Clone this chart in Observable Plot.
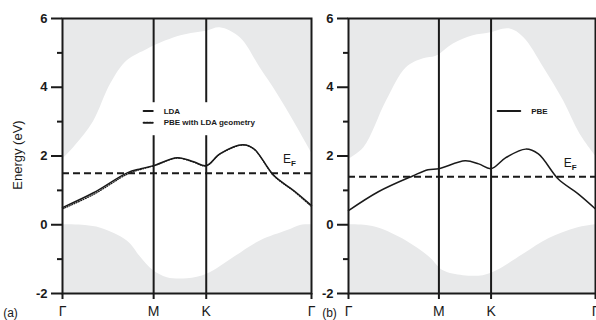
<!DOCTYPE html>
<html>
<head>
<meta charset="utf-8">
<script src="https://cdn.jsdelivr.net/npm/d3@7"></script>
<script src="https://cdn.jsdelivr.net/npm/@observablehq/plot@0.6"></script>
<style>
  html, body { margin: 0; padding: 0; background: #fff; }
  #wrap { position: relative; width: 596px; height: 320px; }
  #wrap svg { position: absolute; top: 0; }
</style>
</head>
<body>
<div id="wrap"></div>
<script>
// ---- data ----
const kTicks = [0, 1, 1.577, 2.732];
const kLabels = ["Γ", "M", "K", "Γ"];
const yMajor = [-2, 0, 2, 4, 6];
const yMinor = [-1, 1, 3, 5];

// panel (a): LDA surface band
const ldaK = [0, 0.34, 0.71, 0.86, 1.0, 1.26, 1.44, 1.577, 1.73, 1.98, 2.10, 2.32, 2.54, 2.732];
const ldaE = [0.50, 0.93, 1.51, 1.63, 1.72, 1.95, 1.83, 1.72, 2.07, 2.33, 2.21, 1.43, 0.99, 0.56];
// panel (a): PBE with LDA geometry (dotted)
const pbeLdaK = [0, 0.34, 0.71, 0.86, 1.0, 1.26, 1.44, 1.577, 1.73, 1.98, 2.10, 2.32, 2.54, 2.732];
const pbeLdaE = [0.46, 0.88, 1.47, 1.61, 1.71, 1.94, 1.82, 1.71, 2.06, 2.32, 2.20, 1.42, 0.97, 0.53];
// panel (b): PBE surface band
const pbeK = [0, 0.33, 0.71, 0.88, 1.0, 1.29, 1.44, 1.577, 1.74, 1.96, 2.10, 2.32, 2.54, 2.732];
const pbeE = [0.41, 0.96, 1.42, 1.60, 1.63, 1.86, 1.77, 1.63, 1.95, 2.20, 2.06, 1.33, 0.90, 0.46];

// projected bulk bands: upper region lower edge, lower region upper edge
const upAK = [0, 0.14, 0.34, 0.53, 0.71, 0.93, 1.0, 1.30, 1.59, 1.73, 1.95, 2.17, 2.36, 2.54, 2.732];
const upAE = [1.9, 2.3, 3.0, 4.1, 4.77, 5.1, 5.2, 5.5, 5.64, 5.73, 5.44, 4.56, 3.8, 3.0, 2.1];
const loAK = [0, 0.25, 0.42, 0.71, 0.86, 1.0, 1.15, 1.37, 1.59, 1.88, 2.17, 2.47, 2.61, 2.732];
const loAE = [0, -0.02, -0.1, -0.47, -0.95, -1.34, -1.54, -1.57, -1.43, -0.95, -0.47, -0.17, -0.02, 0];
const upBK = [0, 0.17, 0.42, 0.64, 0.83, 0.97, 1.16, 1.38, 1.56, 1.78, 1.94, 2.16, 2.38, 2.56, 2.732];
const upBE = [1.9, 2.24, 3.6, 4.57, 4.83, 4.9, 5.26, 5.5, 5.58, 5.7, 5.44, 4.57, 3.6, 2.64, 2.0];
const loBK = [0, 0.2, 0.34, 0.64, 0.9, 1.05, 1.27, 1.49, 1.64, 1.94, 2.22, 2.52, 2.732];
const loBE = [0, -0.02, -0.1, -0.47, -0.95, -1.34, -1.48, -1.48, -1.34, -0.85, -0.4, -0.1, 0];

const efA = 1.5, efB = 1.4;

const zip = (ks, es) => ks.map((k, i) => ({k, e: es[i]}));
const FONT = "'Liberation Sans', Arial, Helvetica, sans-serif";
const INK = "#1a1a1a";
const GRAY = "#e8e9ea";

function panel(o) {
  const yDom = [-2, 6];
  const marks = [
    Plot.areaY(zip(o.upK, o.upE), {x: "k", y1: "e", y2: yDom[1], fill: GRAY, curve: "catmull-rom"}),
    Plot.areaY(zip(o.loK, o.loE), {x: "k", y1: yDom[0], y2: "e", fill: GRAY, curve: "catmull-rom"}),
    ...(o.gap
      ? [Plot.ruleX(kTicks.slice(1, 3), {y1: o.gap[1], y2: yDom[1], stroke: INK, strokeWidth: 2}),
         Plot.ruleX(kTicks.slice(1, 3), {y1: yDom[0], y2: o.gap[0], stroke: INK, strokeWidth: 2})]
      : [Plot.ruleX(kTicks.slice(1, 3), {stroke: INK, strokeWidth: 2})]),
    Plot.ruleY([o.ef], {stroke: INK, strokeWidth: 2, strokeDasharray: "7,4"}),
    ...o.bands.map(b => Plot.line(zip(b.k, b.e), {x: "k", y: "e", stroke: INK, strokeWidth: b.w, strokeDasharray: b.dash, curve: "catmull-rom"})),
    Plot.frame({stroke: INK, strokeWidth: 2}),
    Plot.axisY({ticks: yMajor, tickSize: 11, tickPadding: 4, label: null, tickFormat: d => d < 0 ? "-" + Math.abs(d) : String(d), fontSize: 13, fontWeight: "bold", stroke: INK, strokeWidth: 2}),
    Plot.axisY({ticks: yMinor, tickSize: 5, label: null, text: null, stroke: INK, strokeWidth: 2}),
    Plot.axisX({ticks: kTicks, tickSize: 6, tickPadding: 7, label: null, tickFormat: (d, i) => kLabels[i], fontSize: 14, stroke: INK, strokeWidth: 2}),
    Plot.text([o.tag], {x: 0, y: yDom[0], dx: o.tagDx, dy: 20, fontSize: 12, fill: INK, textAnchor: "middle"}),
    Plot.text(["E"], {x: o.efLab[0], y: o.efLab[1], fontSize: 12, fill: INK, textAnchor: "start"}),
    Plot.text(["F"], {x: o.efLab[0], y: o.efLab[1], dx: 8, dy: 5, fontSize: 8, fontWeight: "bold", fill: INK, textAnchor: "start"}),
    ...o.legend.flatMap(l => [
      Plot.line([{k: l.k0, e: l.e}, {k: l.k1, e: l.e}], {x: "k", y: "e", stroke: INK, strokeWidth: 2, strokeDasharray: l.dash}),
      Plot.text([l.label], {x: l.kt, y: l.e, fontSize: 8, fontWeight: "bold", fill: INK, textAnchor: "start"})
    ])
  ];
  const svg = Plot.plot({
    width: o.width, height: 320,
    marginTop: 18, marginBottom: 27, marginLeft: o.ml, marginRight: o.mr,
    x: {domain: [kTicks[0], kTicks[3]], axis: null},
    y: {domain: yDom, axis: null, label: null},
    style: {fontFamily: FONT, color: INK},
    marks
  });
  svg.style.left = o.left + "px";
  return svg;
}

const a = panel({
  width: 318, left: 0, ml: 62, mr: 7,
  upK: upAK, upE: upAE, loK: loAK, loE: loAE,
  ef: efA, gap: [2.59, 3.55],
  bands: [{k: ldaK, e: ldaE, w: 1.5}, {k: pbeLdaK, e: pbeLdaE, w: 1.2, dash: "1,1.5"}],
  tag: "(a)", tagDx: -52,
  efLab: [2.42, 1.92],
  legend: [
    {k0: 0.89, k1: 0.99, kt: 1.11, e: 3.31, label: "LDA"},
    {k0: 0.89, k1: 0.99, kt: 1.11, e: 2.97, label: "PBE with LDA geometry", dash: "1.5,1.5"}
  ]
});
const b = panel({
  width: 278, left: 318, ml: 30, mr: 1,
  upK: upBK, upE: upBE, loK: loBK, loE: loBE,
  ef: efB, gap: null,
  bands: [{k: pbeK, e: pbeE, w: 1.5}],
  tag: "(b)", tagDx: -19,
  efLab: [2.38, 1.8],
  legend: [
    {k0: 1.65, k1: 1.90, kt: 2.02, e: 3.31, label: "PBE"}
  ]
});

const wrap = document.getElementById("wrap");
wrap.append(a, b);

d3.select(a).append("text")
  .attr("transform", "translate(19,155) rotate(-90)")
  .attr("text-anchor", "middle")
  .attr("dominant-baseline", "middle")
  .attr("font-size", 13)
  .attr("fill", INK)
  .text("Energy (eV)");
</script>
</body>
</html>
